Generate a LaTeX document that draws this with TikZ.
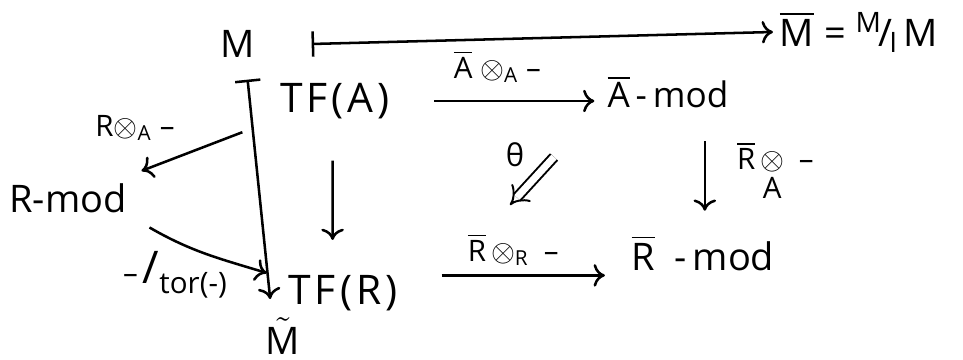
\documentclass[tikz,border=0pt]{standalone}
\usepackage{amsmath}
\usepackage{fontspec}
\newfontfamily\hand[Ligatures=TeX]{Open Sans}
\newfontfamily\handwide[LetterSpace=10]{Open Sans}
\usetikzlibrary{arrows.meta}
\newcommand{\bl}[1]{$\overline{\mbox{#1}}$}
\begin{document}
\begin{tikzpicture}[x=0.0125cm, y=-0.0125cm, line width=0.9pt,
    obj/.style={font=\hand\fontsize{13.5}{16}\selectfont, inner sep=2pt},
    tf/.style={obj, font=\handwide\fontsize{14.5}{16}\selectfont, inner sep=1pt},
    lbl/.style={font=\hand\fontsize{10.5}{12}\selectfont, inner sep=1pt},
    arr/.style={-{To[length=4pt,width=8pt]}},
    mapsto/.style={{Bar[width=9pt]}-{To[length=4pt,width=8pt]}}]
  \useasboundingbox (0,0) rectangle (963,360);
  % objects
  \node[obj] (M) at (238,44) {M};
  \node[obj, anchor=west] (Mbar) at (773,32) {\bl{M} = \raisebox{0.7ex}{\fontsize{10}{12}\selectfont M}\kern-1pt/\kern-1pt\raisebox{-0.3ex}{\fontsize{10}{12}\selectfont I}\,M};
  \node[tf] (TFA) at (335,101) {TF(A)};
  \node[obj, font=\hand\fontsize{12.5}{15}\selectfont] (Amod) at (668,92) {\bl{A}\,-\,mod};
  \node[obj] (Rmod) at (68,198) {R-mod};
  \node[tf] (TFR) at (343,293) {TF(R)};
  \node[obj, inner sep=0.5pt] (Mt) at (283,336) {$\tilde{\mbox{M}}$};
  \node[obj] (Rbmod) at (703,253) {\bl{R}\enspace-\,mod};
  % maps
  \draw[mapsto] ([xshift=0.62cm]M.east) -- (Mbar.west);
  \draw[mapsto] ([xshift=0.12cm,yshift=-0.19cm]M.south) -- ([xshift=-0.16cm,yshift=0.2cm]Mt.north);
  \draw[arr, shorten <=0.47cm, shorten >=0.39cm] ([xshift=-0.03cm]TFA.south) -- ([xshift=-0.13cm]TFR.north);
  \draw[arr, shorten <=0.5cm, shorten >=0.08cm] (TFA.east) -- (TFA.east -| Amod.west)
    node[midway, above=5pt, lbl] {\bl{A} $\otimes$\textsubscript{A} –};
  \draw[arr, shorten <=0.33cm, shorten >=0.22cm] ([xshift=0.46cm]Amod.south) -- ([xshift=0.46cm]Amod.south |- Rbmod.north)
    node[midway, right=10pt, lbl] {\bl{R}\,$\underset{\mbox{A}}{\otimes}$\enspace –};
  \draw[arr, shorten <=0.5cm, shorten >=0.25cm] ([yshift=0.22cm]TFR.east) -- ([yshift=0.22cm]TFR.east -| Rbmod.west)
    node[midway, above=2pt, lbl] {\bl{R}\,$\otimes$\textsubscript{R}\enspace –};
  \draw[arr] ([xshift=-0.42cm,yshift=-0.39cm]TFA.west) -- ([xshift=0.1cm,yshift=0.07cm]Rmod.north east);
  \draw[arr] ([xshift=0.2cm,yshift=-0.1cm]Rmod.south east) to[out=-30, in=163] ([xshift=-0.22cm,yshift=0.25cm]TFR.west);
  \node[lbl] (RtA) at (135,128) {R$\otimes$\textsubscript{A} –};
  \node[lbl] (tor) at (175,275) {–\,{\fontsize{16}{16}\selectfont/}\raisebox{-0.6ex}{tor(-)}};
  % the 2-cell
  \coordinate (thS) at (554,157);
  \coordinate (thE) at (510,205);
  \draw[double, double distance=2.5pt, line width=0.7pt, -{Implies}] (thS) -- (thE);
  \node[lbl, font=\hand\fontsize{11}{12}\selectfont] (theta) at (515,155) {θ};
\end{tikzpicture}
\end{document}
